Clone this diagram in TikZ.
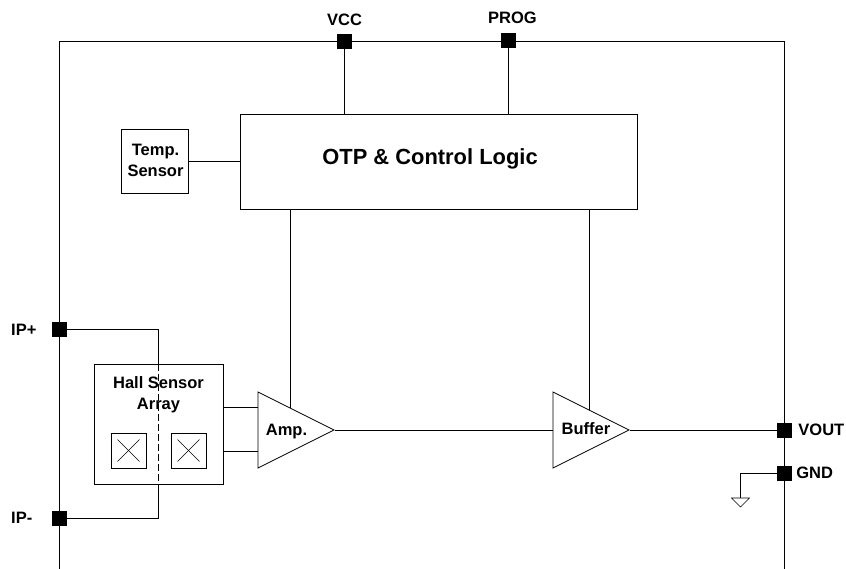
\documentclass[tikz,border=0pt]{standalone}
\usepackage{fontspec}
\setmainfont{Liberation Sans}
\usetikzlibrary{positioning, shapes.geometric}

\tikzset{
    wire/.style={line width=0.8pt},
    pad/.style={draw, fill=black, rectangle, minimum width=14pt, minimum height=14pt, inner sep=0pt},
    blockbox/.style={draw, line width=0.8pt, rectangle, inner sep=0pt},
    padlabel/.style={font=\fontsize{16.5}{20.5}\selectfont\bfseries, inner sep=0pt, align=center},
    hallcell/.style={draw, line width=0.8pt, rectangle, minimum width=35pt, minimum height=35pt, inner sep=0pt},
    amptri/.style={draw, line width=0.8pt, isosceles triangle, isosceles triangle stretches, shape border rotate=0,
        minimum width=76pt, minimum height=76pt, inner sep=0pt, anchor=lower side},
}

\begin{document}
\begin{tikzpicture}[x=1pt, y=-1pt]
    \useasboundingbox (0,0) rectangle (846,569);
    % outer frame
    \coordinate (frameBL) at (59,569);
    \coordinate (frameTL) at (59,41);
    \coordinate (frameTR) at (784,41);
    \coordinate (frameBR) at (784,569);
    \draw[wire] (frameBL) -- (frameTL) -- (frameTR) -- (frameBR);
    % pads
    \foreach \name/\x/\y in {VCC/344/41, PROG/508/40, IPp/59/329, IPm/59/518, VOUT/784/430, GND/784/473} {
        \node[pad] (p\name) at (\x,\y) {};
    }
    % pad labels
    \node[padlabel] (lVCC) at (344.5,19.5) {VCC};
    \node[padlabel] (lPROG) at (512.5,18) {PROG};
    \node[padlabel, anchor=west] (lIPp) at (11,329.5) {IP+};
    \node[padlabel, anchor=west] (lIPm) at (11,517.5) {IP-};
    \node[padlabel, right=7pt of pVOUT] (lVOUT) {VOUT};
    \node[padlabel, right=5pt of pGND] (lGND) {GND};
    % blocks
    \node[blockbox, minimum width=397pt, minimum height=95pt] (otp) at (438.5,161.5) {};
    \node[padlabel, font=\fontsize{21.9}{26}\selectfont\bfseries] (otpText) at (430,159) {OTP \& Control Logic};
    \node[blockbox, minimum width=67pt, minimum height=64pt] (temp) at (154.5,161) {};
    \node[padlabel] (tempText) at (155.5,160.5) {Temp.\\Sensor};
    \node[blockbox, minimum width=129pt, minimum height=120pt] (hall) at (158.5,424) {};
    \node[padlabel] (hallText) at (158.5,394.5) {Hall Sensor\\Array};
    \node[amptri] (amp) at (257.5,430) {};
    \node[padlabel] (ampText) at (286.5,432) {Amp.};
    \node[amptri] (buf) at (552.5,430) {};
    \node[padlabel] (bufText) at (586,429) {Buffer};
    % hall cells
    \foreach \name/\x in {cellL/128.5, cellR/188.5} {
        \node[hallcell] (\name) at (\x,450.5) {};
        \draw[line width=0.5pt] ([shift={(-11pt,-11pt)}]\name.center) -- ([shift={(11pt,11pt)}]\name.center);
        \draw[line width=0.5pt] ([shift={(-11pt,11pt)}]\name.center) -- ([shift={(11pt,-11pt)}]\name.center);
    }
    % connectors
    \draw[wire] (pVCC) -- (pVCC |- otp.north);
    \draw[wire] (pPROG) -- (pPROG |- otp.north);
    \draw[wire] (temp.east) -- (otp.west |- temp.east);
    \coordinate (ampCtl) at (290,408);
    \coordinate (bufCtl) at (589,410);
    \draw[wire] (otp.south -| ampCtl) -- (ampCtl);
    \draw[wire] (otp.south -| bufCtl) -- (bufCtl);
    \draw[wire] (pIPp) -| (hall.north);
    \draw[wire] (pIPm) -| (hall.south);
    \draw[line width=0.5pt, dash pattern=on 7pt off 3pt] (hall.north) -- (hall.south);
    \coordinate (ampInA) at (257.5,407.5);
    \coordinate (ampInB) at (257.5,451);
    \draw[wire] (hall.east |- ampInA) -- (ampInA);
    \draw[wire] (hall.east |- ampInB) -- (ampInB);
    \draw[wire] (amp.apex) -- (buf.lower side);
    \draw[wire] (buf.apex) -- (pVOUT);
    % ground symbol
    \coordinate (gndTop) at (740.5,498);
    \draw[wire] (pGND) -| (gndTop);
    \draw[line width=0.6pt] (gndTop) ++(-9,0) -- ++(18,0) -- ++(-9,9) -- cycle;
\end{tikzpicture}
\end{document}
